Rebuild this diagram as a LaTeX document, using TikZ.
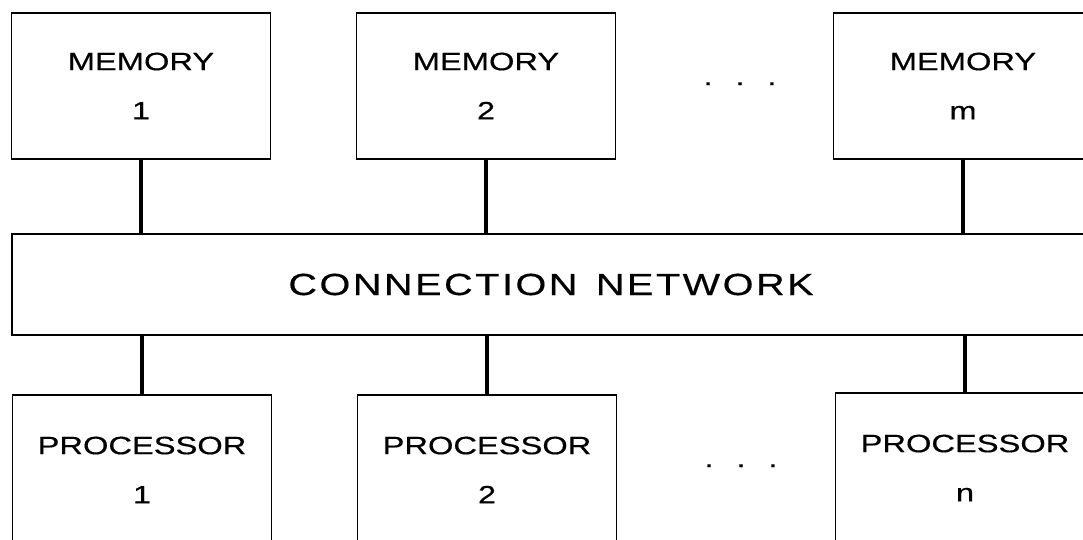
\documentclass[tikz,border=0pt]{standalone}
\usepackage{fontspec}
\setmainfont{Liberation Sans}[FakeStretch=1.3,FakeBold=0.4]
\usepackage{tikz}

\begin{document}
\begin{tikzpicture}[x=0.02cm,y=-0.02cm,
    unitbox/.style={draw,line width=1.1pt,minimum width=5.18cm,minimum height=2.92cm,
      inner sep=0pt,align=center,font=\fontsize{14.3}{17}\selectfont},
    link/.style={line width=2pt}]
      \useasboundingbox (0,0) rectangle (1083,539);
      \clip (0,0) rectangle (1083,539);
      \node[draw,line width=1.1pt,minimum width=21.56cm,minimum height=2.02cm,inner sep=0pt,
        font=\fontsize{17.4}{20}\selectfont\addfontfeatures{LetterSpace=8}] (net) at (551,284.5)
        {CONNECTION\hspace{0.6em}NETWORK};
      \foreach \n/\x/\lab in {mem1/141/1,mem2/486/2,memm/963/m}{
        \node[unitbox] (\n) at (\x,86) {MEMORY\\[11pt]\lab};
        \draw[link] (\n.south) -- (\n.south |- net.north);
      }
      \foreach \n/\x/\y/\lab in {proc1/142/470/1,proc2/487/470/2,procn/965/468/n}{
        \node[unitbox,minimum height=3cm] (\n) at (\x,\y) {PROCESSOR\\[11pt]\lab};
        \draw[link] (\n.north) -- (\n.north |- net.south);
      }
      \node[anchor=base,font=\fontsize{14.3}{17}\selectfont] (memdots) at (740,85) {.\hspace{13pt}.\hspace{13pt}.};
      \node[anchor=base,font=\fontsize{14.3}{17}\selectfont] (procdots) at (741,467) {.\hspace{13pt}.\hspace{13pt}.};
    \end{tikzpicture}
\end{document}
